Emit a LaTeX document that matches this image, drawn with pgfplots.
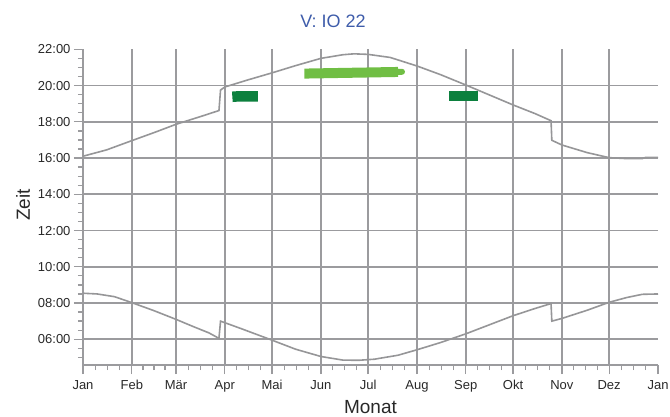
\documentclass[border=0pt]{standalone}
\usepackage{pgfplots}
\pgfplotsset{compat=1.18}
\usepackage{fontspec}
\setmainfont{Liberation Sans}
\definecolor{gridgray}{RGB}{155,155,158}
\definecolor{curvegray}{RGB}{150,150,152}
\definecolor{darkgreen}{RGB}{12,128,62}
\definecolor{lightgreen}{RGB}{112,190,68}
\definecolor{titleblue}{RGB}{62,92,170}
\definecolor{labelgray}{RGB}{40,40,40}
\begin{document}
\begin{tikzpicture}
\useasboundingbox (-83pt,-51pt) rectangle (587pt,365pt);
\begin{axis}[
  at={(0pt,0pt)}, anchor=south west,
  scale only axis, width=575pt, height=315.7pt,
  xmin=0, xmax=365, ymin=4.58, ymax=22,
  axis x line*=bottom, axis y line*=left,
  axis line style={gridgray, line width=1.6pt, -},
  xtick={0,31,59,90,120,151,181,212,243,273,304,334},
  xticklabels={Jan,Feb,Mär,Apr,Mai,Jun,Jul,Aug,Sep,Okt,Nov,Dez},
  extra x ticks={365}, extra x tick labels={Jan},
  extra tick style={grid=none},
  ytick={6,8,10,12,14,16,18,20},
  yticklabels={06:00,08:00,10:00,12:00,14:00,16:00,18:00,20:00},
  extra y ticks={22}, extra y tick labels={22:00},
  minor xtick={7.75,15.5,23.25,38,45,52,66.75,74.5,82.25,97.5,105,112.5,127.75,135.5,143.25,158.5,166,173.5,188.75,196.5,204.25,219.75,227.5,235.25,250.5,258,265.5,280.75,288.5,296.25,311.5,319,326.5,341.75,349.5,357.25},
  minor ytick={5,5.5,6.5,7,7.5,8.5,9,9.5,10.5,11,11.5,12.5,13,13.5,14.5,15,15.5,16.5,17,17.5,18.5,19,19.5,20.5,21,21.5},
  xmajorgrids, ymajorgrids,
  major grid style={gridgray, line width=1.8pt},
  tick align=outside, major tick length=9pt, minor tick length=5pt,
  tick style={gridgray, line width=1.3pt},
  tick label style={font=\fontsize{13}{15}\selectfont, text=labelgray},
  xticklabel style={yshift=-3pt},
  /pgf/number format/assume math mode=true,
]
% sunset
\addplot[curvegray, line width=1.6pt] coordinates {
(0,16.10) (15,16.45) (31,16.96) (45,17.40) (59,17.86) (75,18.30) (86.3,18.62)
(87.3,19.75) (90,19.92) (105,20.32) (120,20.70) (135,21.10) (151,21.50)
(165,21.70) (172,21.75) (181,21.72) (195,21.55) (212,21.08) (227,20.60)
(243,20.03) (258,19.48) (273,18.93) (287,18.45) (297.1,18.06)
(297.6,16.98) (304,16.72) (320,16.30) (334,16.02) (345,15.97) (355,15.97)
(357,16.03) (365,16.04)
};
% sunrise
\addplot[curvegray, line width=1.6pt] coordinates {
(0,8.54) (9,8.50) (20,8.35) (31,8.02) (45,7.58) (59,7.10) (70,6.70) (80,6.35)
(86.3,6.05) (87.3,7.00) (100,6.60) (120,5.95) (135,5.45) (151,5.05)
(165,4.85) (175,4.84) (185,4.90) (200,5.12) (212,5.42) (227,5.82)
(243,6.30) (258,6.80) (273,7.30) (287,7.70) (297.1,7.97)
(297.6,7.00) (304,7.15) (320,7.60) (334,8.04) (345,8.30) (355,8.48) (365,8.50)
};
% observation periods
\addplot[darkgreen, line width=10.5pt, line cap=butt, line join=round] coordinates {(94.8,19.38) (98,19.40) (111,19.40)};
\addplot[lightgreen, line width=10pt, line cap=butt] coordinates {(140.5,20.66) (200.0,20.75)};
\addplot[lightgreen, line width=6pt, line cap=round] coordinates {(198,20.75) (202.5,20.76)};
\addplot[darkgreen, line width=10.5pt, line cap=butt, line join=round] coordinates {(232.6,19.42) (250.6,19.42)};
\end{axis}
\node[text=titleblue, font=\fontsize{18}{20}\selectfont] at (250pt,344pt) {V: IO 22};
\node[text=labelgray, font=\fontsize{19}{21}\selectfont, rotate=90] at (-60pt,160pt) {Zeit};
\node[text=labelgray, font=\fontsize{19}{21}\selectfont] at (287.5pt,-42pt) {Monat};
\end{tikzpicture}
\end{document}
